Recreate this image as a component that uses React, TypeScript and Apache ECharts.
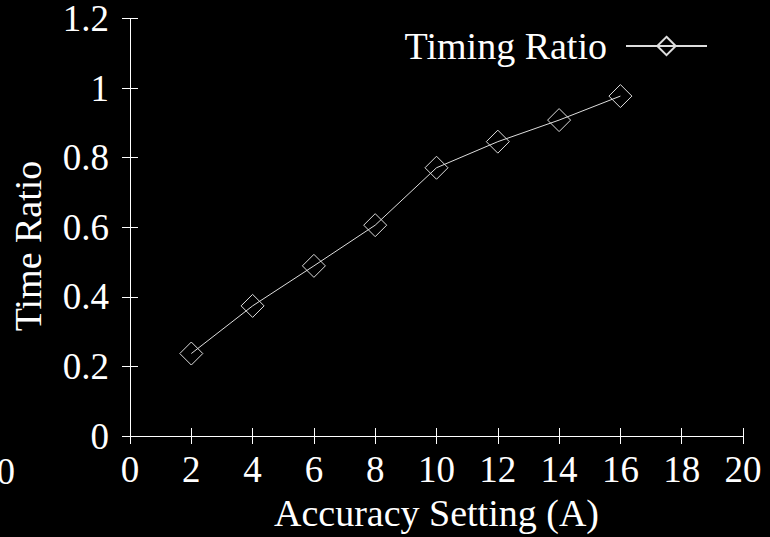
import React, { useEffect, useRef } from "react";
import * as echarts from "echarts";

const seriesName = "Timing Ratio";
const xValues = [2, 4, 6, 8, 10, 12, 14, 16];
const yValues = [0.237, 0.374, 0.489, 0.606, 0.771, 0.846, 0.908, 0.977];
const xTickLabels = ["0", "2", "4", "6", "8", "10", "12", "14", "16", "18", "20"];
const yTickLabels = ["0", "0.2", "0.4", "0.6", "0.8", "1", "1.2"];
const xTitle = "Accuracy Setting (A)";
const yTitle = "Time Ratio";
const strayLabel = "0";

const FONT = "Liberation Serif";
const FS = 37;

export default function App() {
  const ref = useRef<HTMLDivElement>(null);
  useEffect(() => {
    if (!ref.current) return;
    const chart = echarts.init(ref.current, null, { renderer: "svg" });
    const axisLine = { show: true, lineStyle: { color: "#ffffff", width: 1 } };
    const axisTick = { show: true, inside: true, length: 8, lineStyle: { color: "#ffffff", width: 1 } };
    const labelStyle = { color: "#ffffff", fontSize: FS, fontFamily: FONT };
    chart.setOption({
      animation: false,
      backgroundColor: "#000000",
      grid: { left: 130, right: 27, top: 17, bottom: 100, containLabel: false },
      legend: {
        data: [seriesName],
        right: 57,
        top: 22,
        align: "right",
        itemWidth: 81,
        itemHeight: 23,
        textStyle: { ...labelStyle, fontSize: 38, padding: [6, 14, 0, 0] },
      },
      xAxis: [
        {
          type: "value",
          min: 0,
          max: 20,
          interval: 2,
          position: "bottom",
          axisLine,
          axisTick,
          splitLine: { show: false },
          axisLabel: {
            ...labelStyle,
            margin: 15,
            formatter: (v: number) => xTickLabels[Math.round(v / 2)] ?? String(v),
          },
          name: xTitle,
          nameLocation: "middle",
          nameGap: 58,
          nameTextStyle: { ...labelStyle, fontSize: 38 },
        },
        {
          type: "value",
          min: 0,
          max: 20,
          interval: 2,
          position: "top",
          axisLine,
          axisTick,
          splitLine: { show: false },
          axisLabel: { show: false },
        },
      ],
      yAxis: [
        {
          type: "value",
          min: 0,
          max: 1.2,
          interval: 0.2,
          position: "left",
          axisLine,
          axisTick,
          splitLine: { show: false },
          axisLabel: {
            ...labelStyle,
            margin: 21,
            padding: [7, 0, 0, 0],
            formatter: (v: number) => yTickLabels[Math.round(v / 0.2)] ?? String(v),
          },
        },
        {
          type: "value",
          min: 0,
          max: 1.2,
          interval: 0.2,
          position: "right",
          axisLine,
          axisTick,
          splitLine: { show: false },
          axisLabel: { show: false },
        },
      ],
      graphic: [
        {
          type: "text",
          x: 28,
          y: 246,
          rotation: Math.PI / 2,
          style: {
            text: yTitle,
            fill: "#ffffff",
            fontSize: 38,
            fontFamily: FONT,
            align: "center",
            verticalAlign: "middle",
          },
        },
        {
          type: "text",
          x: 15,
          y: 471,
          style: {
            text: strayLabel,
            fill: "#ffffff",
            fontSize: FS,
            fontFamily: FONT,
            align: "right",
            verticalAlign: "middle",
          },
        },
      ],
      series: [
        {
          name: seriesName,
          type: "line",
          xAxisIndex: 0,
          yAxisIndex: 0,
          data: xValues.map((x, i) => [x, yValues[i]]),
          symbol: "diamond",
          symbolSize: 23,
          showAllSymbol: true,
          lineStyle: { color: "#dddddd", width: 1 },
          itemStyle: { color: "rgba(0,0,0,0)", borderColor: "#dddddd", borderWidth: 1 },
          emphasis: { disabled: true },
        },
      ],
    });
    return () => chart.dispose();
  }, []);
  return <div ref={ref} style={{ width: 770, height: 537, position: "absolute", left: 0, top: 0 }} />;
}
